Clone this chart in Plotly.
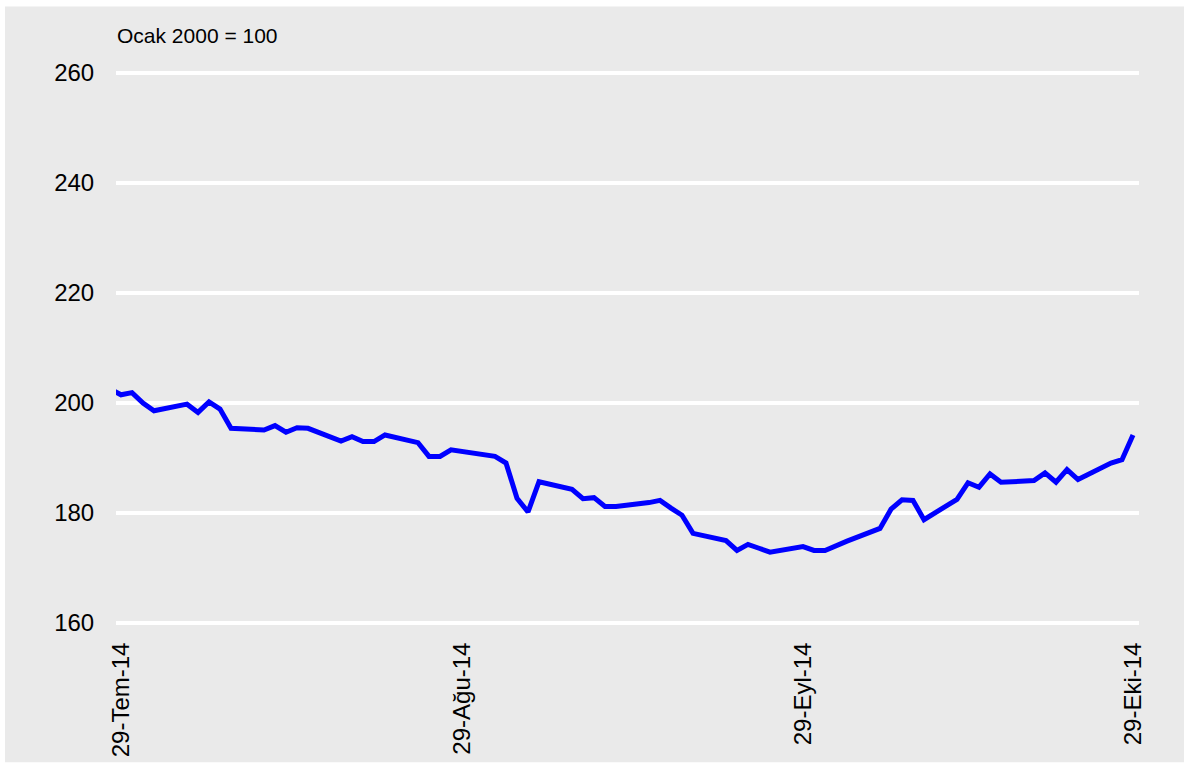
import plotly.graph_objects as go

dates = [
    "2014-07-28", "2014-07-29", "2014-07-30", "2014-07-31", "2014-08-01",
    "2014-08-04", "2014-08-05", "2014-08-06", "2014-08-07", "2014-08-08",
    "2014-08-11", "2014-08-12", "2014-08-13", "2014-08-14", "2014-08-15",
    "2014-08-18", "2014-08-19", "2014-08-20", "2014-08-21", "2014-08-22",
    "2014-08-25", "2014-08-26", "2014-08-27", "2014-08-28",
    "2014-09-01", "2014-09-02", "2014-09-03", "2014-09-04", "2014-09-05",
    "2014-09-08", "2014-09-09", "2014-09-10", "2014-09-11", "2014-09-12",
    "2014-09-15", "2014-09-16", "2014-09-17", "2014-09-18", "2014-09-19",
    "2014-09-22", "2014-09-23", "2014-09-24", "2014-09-25", "2014-09-26",
    "2014-09-29", "2014-09-30", "2014-10-01", "2014-10-02", "2014-10-03",
    "2014-10-06", "2014-10-07", "2014-10-08", "2014-10-09", "2014-10-10",
    "2014-10-13", "2014-10-14", "2014-10-15", "2014-10-16", "2014-10-17",
    "2014-10-20", "2014-10-21", "2014-10-22", "2014-10-23", "2014-10-24",
    "2014-10-27", "2014-10-28", "2014-10-29",
]
values = [
    202.5, 201.4, 201.8, 199.9, 198.5,
    199.7, 198.2, 200.1, 198.8, 195.3,
    195.0, 195.8, 194.6, 195.4, 195.3,
    193.0, 193.8, 192.9, 192.9, 194.1,
    192.7, 190.2, 190.2, 191.4,
    190.2, 189.0, 182.6, 180.1, 185.6,
    184.2, 182.5, 182.7, 181.1, 181.1,
    181.8, 182.2, 180.8, 179.5, 176.2,
    174.9, 173.1, 174.2, 173.5, 172.8,
    173.8, 173.1, 173.1, 174.0, 174.8,
    177.1, 180.6, 182.3, 182.2, 178.7,
    182.4, 185.4, 184.6, 187.0, 185.5,
    185.8, 187.2, 185.5, 187.8, 186.0,
    189.0, 189.6, 194.1,
]

x_tick_vals = ["2014-07-29", "2014-08-29", "2014-09-29", "2014-10-29"]
x_tick_text = ["29-Tem-14", "29-Ağu-14", "29-Eyl-14", "29-Eki-14"]
y_tick_vals = [160, 180, 200, 220, 240, 260]
subtitle = "Ocak 2000 = 100"

GRAY = "#eaeaea"
FONT = "Liberation Sans, Arial, sans-serif"

fig = go.Figure()
fig.add_trace(go.Scatter(
    x=dates, y=values, mode="lines",
    line=dict(color="#0000ff", width=5),
    showlegend=False, hoverinfo="x+y",
))

# plot area geometry: l=116, r=51 -> width 1023 ; t=66.5, b=140.5 -> height 562
fig.update_layout(
    width=1190, height=769,
    margin=dict(l=116, r=51, t=66.5, b=140.5, pad=0, autoexpand=False),
    paper_bgcolor="white",
    plot_bgcolor=GRAY,
    font=dict(family=FONT, color="black"),
    xaxis=dict(
        type="date", automargin=False,
        range=["2014-07-28 13:05", "2014-10-29 13:05"],
        tickvals=x_tick_vals, ticktext=x_tick_text,
        tickangle=-90,
        tickfont=dict(size=24, family=FONT, color="black"),
        showgrid=False, zeroline=False, showline=False,
        ticks="outside", ticklen=4, tickcolor="rgba(0,0,0,0)",
    ),
    yaxis=dict(
        automargin=False,
        range=[159, 261],
        tickvals=y_tick_vals,
        tickfont=dict(size=24, family=FONT, color="black"),
        showgrid=True, gridcolor="white", gridwidth=4,
        zeroline=False, showline=False,
        ticks="outside", ticklen=16, tickcolor="rgba(0,0,0,0)",
    ),
    shapes=[dict(
        type="rect", xref="paper", yref="paper", layer="below",
        x0=(5 - 116) / 1023, x1=(1184 - 116) / 1023,
        y0=(628.5 - 763) / 562, y1=(628.5 - 6) / 562,
        fillcolor=GRAY, line=dict(width=0),
    )],
    annotations=[dict(
        text=subtitle, xref="paper", yref="paper",
        x=(115 - 116) / 1023, y=(628.5 - 35) / 562,
        xanchor="left", yanchor="middle", showarrow=False,
        font=dict(size=21, family=FONT, color="black"),
    )],
)

fig.write_html(
    "out.html",
    config={"displayModeBar": False},
    post_script="document.body.style.margin='0px';document.body.style.overflow='hidden';",
)
